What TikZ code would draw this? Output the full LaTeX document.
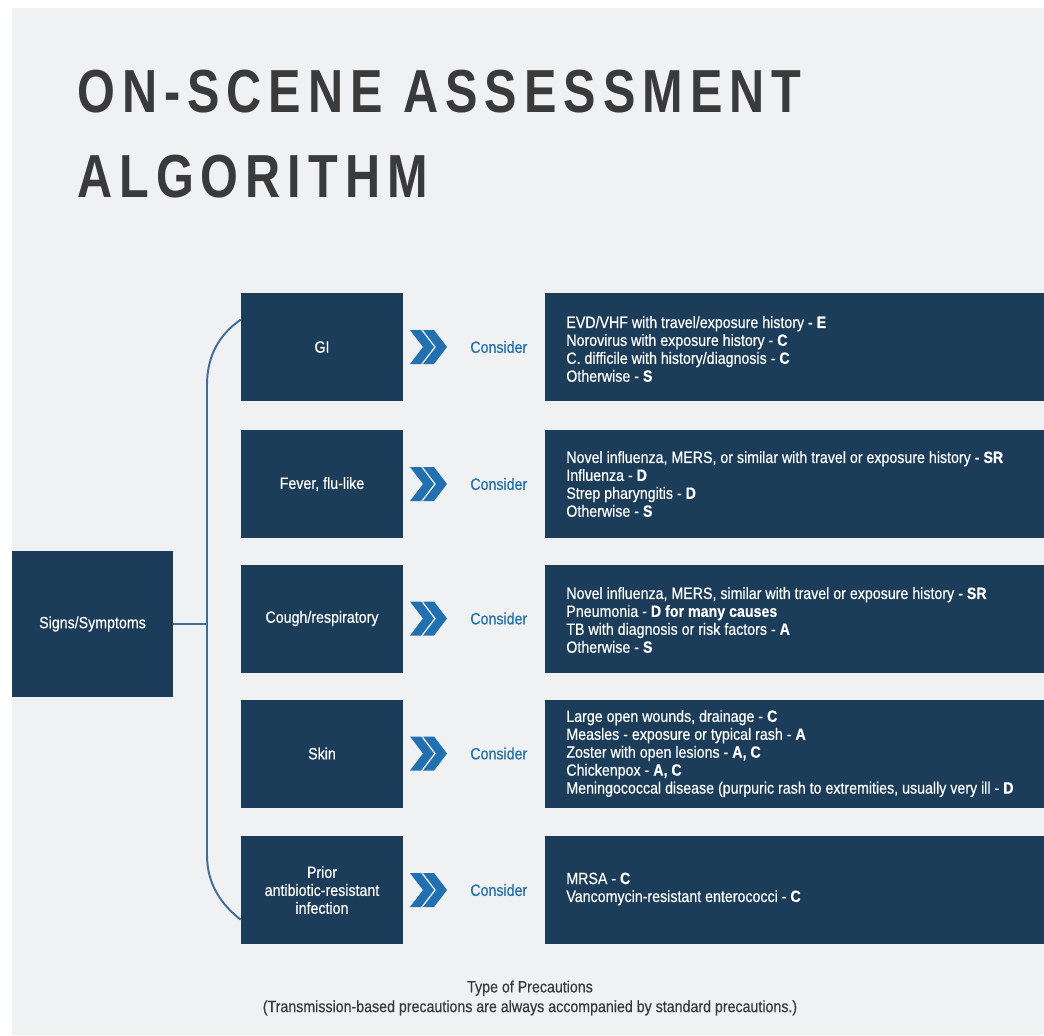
\documentclass[tikz,border=0pt]{standalone}
\usepackage{fontspec}
\setmainfont[FakeStretch=0.87,FakeBold=0.4]{Liberation Sans}
\newfontfamily\titlefont[FakeStretch=0.8,LetterSpace=11.5]{Liberation Sans}
\usetikzlibrary{calc}
\definecolor{navy}{RGB}{27,61,90}
\definecolor{chev}{RGB}{33,112,178}
\definecolor{paper}{RGB}{240,241,243}
\definecolor{ink}{RGB}{58,58,58}
\definecolor{linkc}{RGB}{62,110,155}
\newcommand\boxfont{\fontsize{9.3}{10.2}\selectfont}
\newcommand\px{0.02cm}
\begin{document}
\begin{tikzpicture}[x=\px,y=-\px,
    box/.style={fill=navy,text=white,inner sep=0pt,align=center,font=\boxfont,
      minimum width=162*\px,minimum height=108*\px},
    infobox/.style={fill=navy,inner sep=0pt,minimum width=499*\px,minimum height=108*\px},
    infotext/.style={text=white,anchor=west,align=left,inner sep=0pt,font=\boxfont},
    cons/.style={text=chev,anchor=west,inner sep=0pt,font=\boxfont},
    link/.style={draw=linkc,line width=1.1pt}]
  \useasboundingbox (0,0) rectangle (1044,1035);
  \fill[white] (0,0) rectangle (1044,1035);
  \fill[paper] (12,8) rectangle (1044,1035);
  % title
  \node[anchor=base west,inner sep=0pt,text=ink,font=\titlefont\bfseries\fontsize{34.6}{40}\selectfont]
    (title1) at (77,112) {ON-SCENE ASSESSMENT};
  \node[anchor=base west,inner sep=0pt,text=ink,font=\titlefont\bfseries\fontsize{34.6}{40}\selectfont]
    (title2) at (77,197) {ALGORITHM};
  % left column
  \node[box,minimum width=161*\px,minimum height=146*\px] (sig) at (92.5,624) {Signs/Symptoms};
  \node[box] (gi)  at (322,347)   {GI};
  \node[box] (fev) at (322,484)   {Fever, flu-like};
  \node[box] (cou) at (322,618.5) {Cough/respiratory};
  \node[box] (ski) at (322,753.5) {Skin};
  \node[box] (pri) at (322,890)   {Prior\\antibiotic-resistant\\infection};
  % right column
  \node[infobox] (giR)  at (794.5,347) {};
  \node[infobox] (fevR) at (794.5,484) {};
  \node[infobox] (couR) at (794.5,618.5) {};
  \node[infobox] (skiR) at (794.5,753.5) {};
  \node[infobox] (priR) at (794.5,890) {};
  \node[infotext] (giT) at (566,349) {EVD/VHF with travel/exposure history - \textbf{E}\\
    Norovirus with exposure history - \textbf{C}\\
    C. difficile with history/diagnosis - \textbf{C}\\
    Otherwise - \textbf{S}};
  \node[infotext] (fevT) at (566,484) {Novel influenza, MERS, or similar with travel or exposure history - \textbf{SR}\\
    Influenza - \textbf{D}\\
    Strep pharyngitis - \textbf{D}\\
    Otherwise - \textbf{S}};
  \node[infotext] (couT) at (566,620) {Novel influenza, MERS, similar with travel or exposure history - \textbf{SR}\\
    Pneumonia - \textbf{D for many causes}\\
    TB with diagnosis or risk factors - \textbf{A}\\
    Otherwise - \textbf{S}};
  \node[infotext] (skiT) at (566,753.5) {Large open wounds, drainage - \textbf{C}\\
    Measles - exposure or typical rash - \textbf{A}\\
    Zoster with open lesions - \textbf{A, C}\\
    Chickenpox - \textbf{A, C}\\
    Meningococcal disease (purpuric rash to extremities, usually very ill - \textbf{D}};
  \node[infotext] (priT) at (566,889) {MRSA - \textbf{C}\\
    Vancomycin-resistant enterococci - \textbf{C}};
  % chevrons
  \foreach \nm/\y in {gi/347,fev/484,cou/618.5,ski/753.5,pri/890}{
    \begin{scope}[shift={(410,\y)}]
      \foreach \dx in {0,13}
        \fill[chev] (\dx,-17) -- ++(11,0) -- ++(13,17) -- ++(-13,17) -- ++(-11,0) -- ++(13,-17) -- cycle;
    \end{scope}
    \node[cons] (c\nm) at (470,\y) {Consider};
  }
  % bracket
  \coordinate (jn) at (207,624);
  \coordinate (topend) at ($(gi.north west)+(0,27)$);
  \coordinate (botend) at ($(pri.north west)+(0,84)$);
  \draw[link] (sig.east) -- (jn);
  \draw[link] (topend) .. controls (220,334) and (207,355) .. (207,385) -- (207,855)
    .. controls (207,885) and (222,905) .. (botend);
  % footer
  \node[align=center,inner sep=0pt,text=ink!90!navy,font=\boxfont\linespread{1.1}\selectfont]
    (note) at (530,998) {Type of Precautions\\(Transmission-based precautions are always accompanied by standard precautions.)};
\end{tikzpicture}
\end{document}
